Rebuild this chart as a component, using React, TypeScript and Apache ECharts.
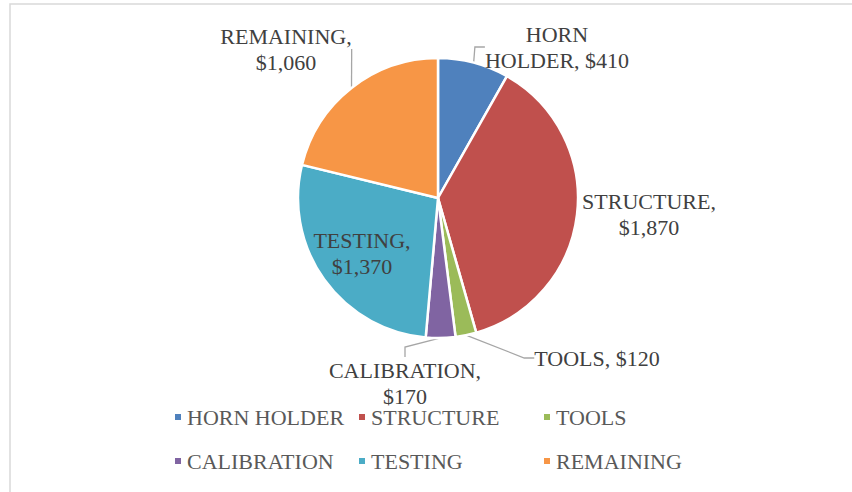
import React, { useEffect, useRef } from "react";
import * as echarts from "echarts";

const categories = ["HORN HOLDER", "STRUCTURE", "TOOLS", "CALIBRATION", "TESTING", "REMAINING"];
const values = [410, 1870, 120, 170, 1370, 1060];
const colors = ["#4f81bd", "#c0504d", "#9bbb59", "#8064a2", "#4bacc6", "#f79646"];

// label placement (center of text block) for each slice
const labelPos: [number, number][] = [
  [557, 47],
  [649, 214],
  [597, 358],
  [405, 383],
  [362, 253],
  [286, 49],
];
const legendPos: [number, number][] = [
  [173, 405],
  [357, 405],
  [542, 405],
  [173, 449],
  [357, 449],
  [542, 449],
];

const fmt = (v: number) => "$" + v.toLocaleString("en-US");

function labelText(i: number): string {
  const name = categories[i];
  const val = fmt(values[i]);
  if (i === 0) return "HORN\nHOLDER, " + val;
  if (i === 2) return name + ", " + val;
  return name + ",\n" + val;
}

export default function App() {
  const ref = useRef<HTMLDivElement>(null);
  useEffect(() => {
    if (!ref.current) return;
    const chart = echarts.init(ref.current, undefined, { renderer: "svg" });
    const font = "'Liberation Serif', 'Times New Roman', serif";
    chart.setOption({
      animation: false,
      backgroundColor: "#ffffff",
      graphic: [
        {
          type: "rect",
          shape: { x: 10, y: 4, width: 900, height: 600 },
          style: { fill: "none", stroke: "#d9d9d9", lineWidth: 1.5 },
          silent: true,
        },
      ],
      legend: categories.map((c, i) => ({
        data: [c],
        left: legendPos[i][0],
        top: legendPos[i][1],
        padding: 0,
        icon: "rect",
        itemWidth: 8,
        itemHeight: 8,
        selectedMode: false,
        textStyle: { fontFamily: font, fontSize: 22, color: "#595959", lineHeight: 24 },
      })),
      series: [
        {
          type: "pie",
          center: [438, 198],
          radius: 140,
          startAngle: 90,
          clockwise: true,
          avoidLabelOverlap: false,
          itemStyle: { borderColor: "#ffffff", borderWidth: 2.5 },
          label: {
            show: true,
            position: "outside",
            fontFamily: font,
            fontSize: 22,
            lineHeight: 26,
            color: "#404040",
            align: "center",
            formatter: (p: any) => labelText(p.dataIndex),
          },
          labelLine: {
            show: true,
            length: 10,
            length2: 10,
            lineStyle: { color: "#a6a6a6", width: 1.3 },
          },
          labelLayout: (p: any) => ({
            x: labelPos[p.dataIndex][0],
            y: labelPos[p.dataIndex][1],
            align: "center",
            verticalAlign: "middle",
          }),
          data: categories.map((c, i) => ({
            name: c,
            value: values[i],
            itemStyle: { color: colors[i] },
            label: i === 4 ? { position: "inside" } : undefined,
            labelLine: i === 1 || i === 4 ? { show: false } : undefined,
          })),
        },
      ],
    });
    return () => chart.dispose();
  }, []);
  return (
    <div
      ref={ref}
      style={{ position: "absolute", left: 0, top: 0, width: 852, height: 492 }}
    />
  );
}
